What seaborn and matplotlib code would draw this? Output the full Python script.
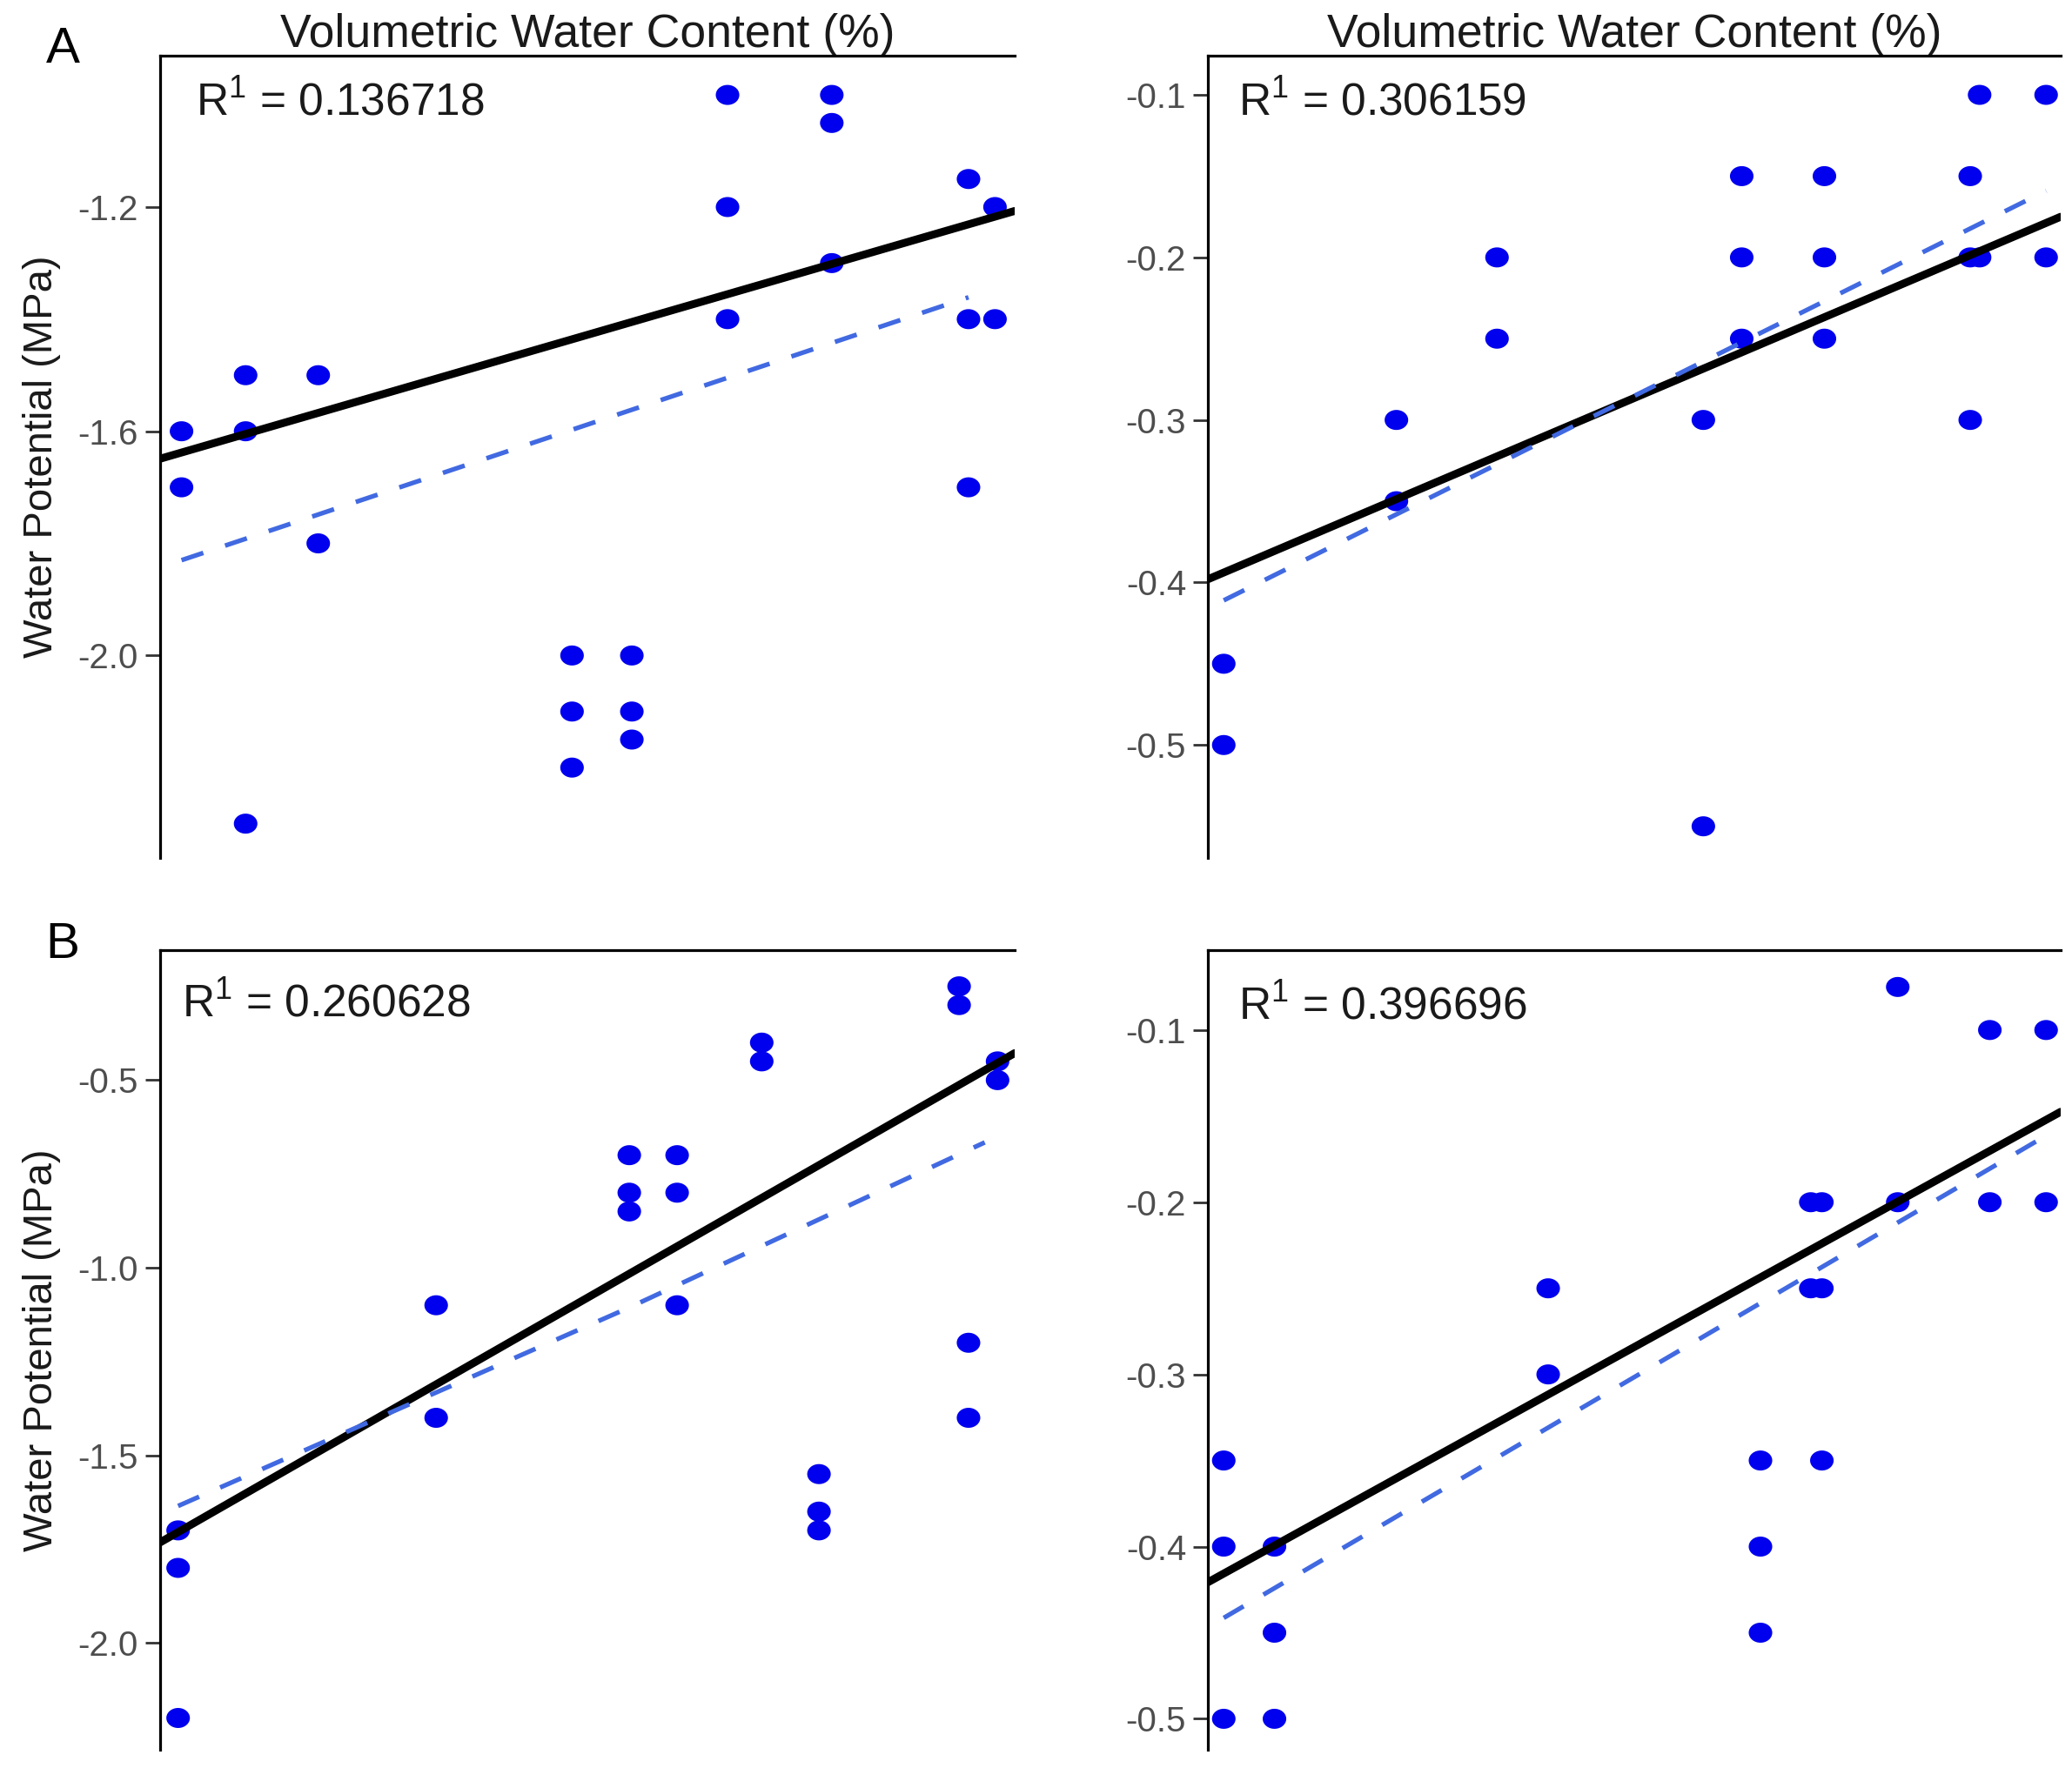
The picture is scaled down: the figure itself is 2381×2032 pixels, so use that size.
import numpy as np
import pandas as pd
import matplotlib
matplotlib.use("Agg")
import matplotlib.pyplot as plt
import seaborn as sns

# ---- datos (x en unidades relativas del eje, sin escala visible) ----
# Panel A (arriba izquierda)
a_x = [2.5, 2.5, 10.0, 10.0, 10.0, 18.5, 18.5, 48.2, 48.2, 48.2, 55.2, 55.2, 55.2,
       66.4, 66.4, 66.4, 78.6, 78.6, 78.6, 94.6, 94.6, 94.6, 97.7, 97.7]
a_y = [-1.6, -1.7, -1.5, -1.6, -2.3, -1.5, -1.8, -2.0, -2.1, -2.2, -2.0, -2.1, -2.15,
       -1.0, -1.2, -1.4, -1.0, -1.05, -1.3, -1.15, -1.4, -1.7, -1.2, -1.4]
a_fit_x, a_fit_y = [0, 100], [-1.649, -1.207]
a_dash_x, a_dash_y = [2.5, 94.6], [-1.83, -1.361]
a_r = "0.136718"

# Panel arriba derecha
c_x = [1.85, 1.85, 22.1, 22.1, 33.9, 33.9, 58.1, 58.1, 62.6, 62.6, 62.6, 72.3, 72.3, 72.3,
       89.4, 89.4, 89.4, 90.5, 90.5, 98.3, 98.3]
c_y = [-0.45, -0.5, -0.3, -0.35, -0.2, -0.25, -0.3, -0.55, -0.15, -0.2, -0.25, -0.15, -0.2, -0.25,
       -0.15, -0.3, -0.2, -0.2, -0.1, -0.1, -0.2]
c_fit_x, c_fit_y = [0, 100], [-0.398, -0.175]
c_dash_x, c_dash_y = [1.85, 98.3], [-0.411, -0.159]
c_r = "0.306159"

# Panel B (abajo izquierda)
b_x = [2.1, 2.1, 2.1, 32.3, 32.3, 54.9, 54.9, 54.9, 60.5, 60.5, 60.5, 70.4, 70.4,
       77.1, 77.1, 77.1, 93.5, 93.5, 94.6, 94.6, 98.0, 98.0]
b_y = [-1.7, -1.8, -2.2, -1.1, -1.4, -0.7, -0.8, -0.85, -0.7, -0.8, -1.1, -0.4, -0.45,
       -1.55, -1.65, -1.7, -0.25, -0.3, -1.2, -1.4, -0.45, -0.5]
b_fit_x, b_fit_y = [0, 100], [-1.732, -0.428]
b_dash_x, b_dash_y = [2.1, 54.9, 96.5], [-1.635, -1.106, -0.666]
b_r = "0.260628"

# Panel abajo derecha
d_x = [1.85, 1.85, 1.85, 7.8, 7.8, 7.8, 39.9, 39.9, 64.8, 64.8, 64.8, 70.7, 72.0, 70.7, 72.0, 72.0,
       80.9, 80.9, 91.7, 91.7, 98.3, 98.3]
d_y = [-0.35, -0.4, -0.5, -0.4, -0.45, -0.5, -0.25, -0.3, -0.35, -0.4, -0.45, -0.2, -0.2, -0.25, -0.25, -0.35,
       -0.075, -0.2, -0.1, -0.2, -0.1, -0.2]
d_fit_x, d_fit_y = [0, 100], [-0.4207, -0.1475]
d_dash_x, d_dash_y = [1.85, 97.3], [-0.4414, -0.1642]
d_r = "0.396696"

ticks_a = [-2.0, -1.6, -1.2]
ticks_b = [-2.0, -1.5, -1.0, -0.5]
ticks_small = [-0.5, -0.4, -0.3, -0.2, -0.1]

sns.set_theme(style="ticks")
plt.rcParams['font.family'] = ['Liberation Sans', 'DejaVu Sans']
plt.rcParams['mathtext.fontset'] = 'custom'
plt.rcParams['mathtext.rm'] = 'Liberation Sans'
plt.rcParams['mathtext.it'] = 'Liberation Sans'
plt.rcParams['axes.unicode_minus'] = False

# marcador eliptico (los puntos del original son algo mas anchos que altos)
t = np.linspace(0, 2 * np.pi, 64)
elipse = np.column_stack([np.cos(t), 0.85 * np.sin(t)])

fig = plt.figure(figsize=(23.81, 20.32), dpi=100)

paneles = [
    # (x, y, fit, dash, r, ylim, ticks, rect, xlabel, ylabel, letra, pos texto)
    (a_x, a_y, (a_fit_x, a_fit_y), (a_dash_x, a_dash_y), a_r, (-2.361, -0.930), ticks_a,
     [0.0773, 0.5148, 0.4124, 0.4537], True, True, ("A", 57), (0.042, 0.941)),
    (c_x, c_y, (c_fit_x, c_fit_y), (c_dash_x, c_dash_y), c_r, (-0.5694, -0.0759), ticks_small,
     [0.5830, 0.5148, 0.4115, 0.4537], True, False, None, (0.036, 0.941)),
    (b_x, b_y, (b_fit_x, b_fit_y), (b_dash_x, b_dash_y), b_r, (-2.2848, -0.1535), ticks_b,
     [0.0773, 0.0103, 0.4124, 0.4523], False, True, ("B", 1086), (0.0255, 0.9325)),
    (d_x, d_y, (d_fit_x, d_fit_y), (d_dash_x, d_dash_y), d_r, (-0.518, -0.0536), ticks_small,
     [0.5830, 0.0103, 0.4115, 0.4523], False, False, None, (0.036, 0.929)),
]

for x, y, fit, dash, r, ylim, ticks, rect, xlab, ylab, letra, tpos in paneles:
    ax = fig.add_axes(rect)
    df = pd.DataFrame({"vwc": x, "wp": y})
    sns.scatterplot(data=df, x="vwc", y="wp", ax=ax, marker=elipse, s=380,
                    color="#0000EE", edgecolor="none", zorder=2)
    sns.lineplot(x=fit[0], y=fit[1], ax=ax, color="black", linewidth=6.5,
                 estimator=None, sort=False, zorder=3)
    sns.lineplot(x=dash[0], y=dash[1], ax=ax, color="#4169E1", linewidth=3.8,
                 linestyle=(0, (5, 5)), estimator=None, sort=False, zorder=4)

    ax.set_xlim(0, 100)
    ax.set_ylim(*ylim)
    ax.set_yticks(ticks)
    ax.set_yticklabels([f"{v:.1f}" for v in ticks])
    ax.set_xticks([])
    ax.tick_params(axis="y", length=12, width=2, color="#333333", labelcolor="#4D4D4D",
                   labelsize=29, pad=6)
    for lado in ["right", "bottom"]:
        ax.spines[lado].set_visible(False)
    for lado in ["left", "top"]:
        ax.spines[lado].set_linewidth(2.3)
        ax.spines[lado].set_color("black")

    if xlab:
        ax.xaxis.set_label_position("top")
        ax.set_xlabel("Volumetric Water Content (%)", fontsize=38.5, color="#1A1A1A")
        ax.xaxis.label.set_va("center")
        ax.xaxis.set_label_coords(0.5, 1 + 24 / 922)
    else:
        ax.set_xlabel("")
    if ylab:
        ax.set_ylabel("Water Potential (MPa)", fontsize=34, color="#1A1A1A")
        ax.yaxis.label.set_va("center")
        ax.yaxis.set_label_coords(-136 / 982, 0.5)
    else:
        ax.set_ylabel("")

    ax.text(tpos[0], tpos[1], r"R$^{1}$ = " + r, transform=ax.transAxes,
            fontsize=37, color="#1A1A1A", ha="left", va="center")

    if letra:
        fig.text(72 / 2381, 1 - letra[1] / 2032, letra[0], fontsize=42,
                 fontweight="medium", ha="center", va="center", color="black")

fig.savefig("out.png", dpi=100, facecolor="white")
